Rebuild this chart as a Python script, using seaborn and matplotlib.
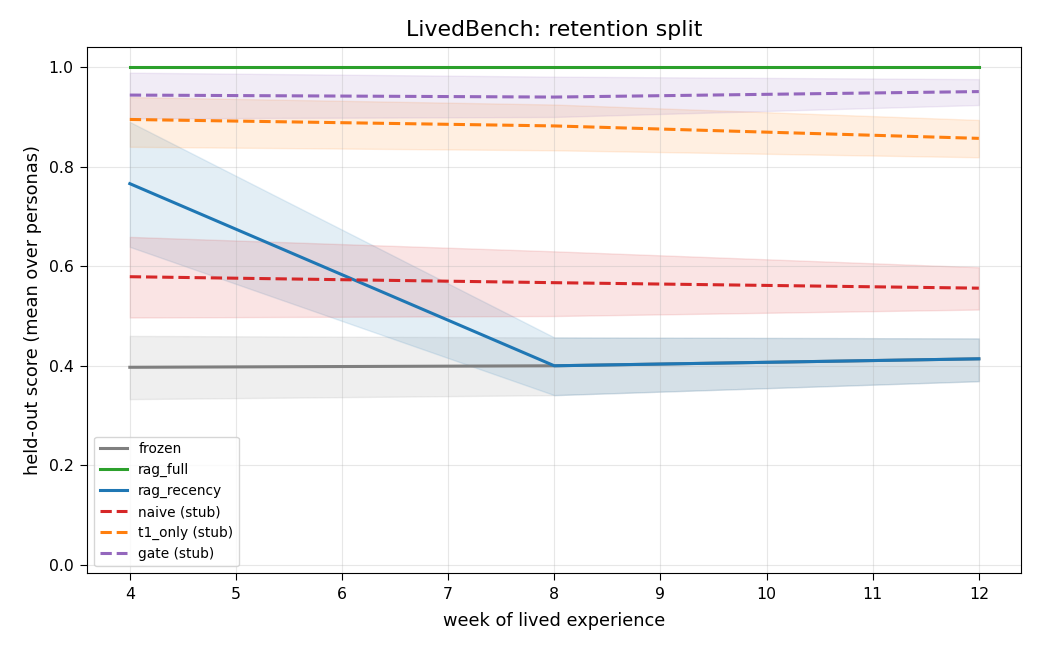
import matplotlib
matplotlib.use("Agg")
import matplotlib.pyplot as plt
import seaborn as sns
import pandas as pd

plt.rcParams['font.family'] = ['DejaVu Sans']

# ---- data ----
weeks = [4, 8, 12]

frozen_mean = [0.397, 0.400, 0.414]
frozen_lo = [0.333, 0.341, 0.369]
frozen_hi = [0.460, 0.457, 0.455]

rag_full_mean = [1.0, 1.0, 1.0]
rag_full_lo = [1.0, 1.0, 1.0]
rag_full_hi = [1.0, 1.0, 1.0]

rag_recency_mean = [0.766, 0.400, 0.414]
rag_recency_lo = [0.639, 0.341, 0.369]
rag_recency_hi = [0.890, 0.457, 0.455]

naive_mean = [0.579, 0.567, 0.556]
naive_lo = [0.497, 0.500, 0.513]
naive_hi = [0.659, 0.630, 0.598]

t1_mean = [0.895, 0.882, 0.857]
t1_lo = [0.840, 0.833, 0.819]
t1_hi = [0.940, 0.925, 0.894]

gate_mean = [0.944, 0.940, 0.951]
gate_lo = [0.897, 0.900, 0.924]
gate_hi = [0.989, 0.981, 0.976]

series = [
    ("frozen", frozen_mean, frozen_lo, frozen_hi, "#7f7f7f", "-"),
    ("rag_full", rag_full_mean, rag_full_lo, rag_full_hi, "#2ca02c", "-"),
    ("rag_recency", rag_recency_mean, rag_recency_lo, rag_recency_hi, "#1f77b4", "-"),
    ("naive (stub)", naive_mean, naive_lo, naive_hi, "#d62728", "--"),
    ("t1_only (stub)", t1_mean, t1_lo, t1_hi, "#ff7f0e", "--"),
    ("gate (stub)", gate_mean, gate_lo, gate_hi, "#9467bd", "--"),
]

fig, ax = plt.subplots(figsize=(10.4, 6.5), dpi=100)

for name, m, lo, hi, c, ls in series:
    df = pd.DataFrame({"week": weeks, "score": m})
    sns.lineplot(data=df, x="week", y="score", ax=ax, color=c, linestyle=ls,
                 linewidth=2.2, label=name, errorbar=None)
    ax.fill_between(weeks, lo, hi, color=c, alpha=0.12)

ax.set_xlim(3.6, 12.4)
ax.set_ylim(-0.017, 1.041)
ax.set_xticks(range(4, 13))
ax.set_yticks([0.0, 0.2, 0.4, 0.6, 0.8, 1.0])
ax.grid(True, alpha=0.3)
ax.tick_params(labelsize=11.3, length=4.9, pad=5)
ax.set_xlabel("week of lived experience", fontsize=12.8, labelpad=7)
ax.set_ylabel("held-out score (mean over personas)", fontsize=12.8, labelpad=5)
ax.set_title("LivedBench: retention split", fontsize=15.8, pad=8)
ax.legend(loc="lower left", fontsize=9.9)

fig.subplots_adjust(left=0.084, right=0.982, top=0.928, bottom=0.118)
fig.savefig("out.png", dpi=100)
